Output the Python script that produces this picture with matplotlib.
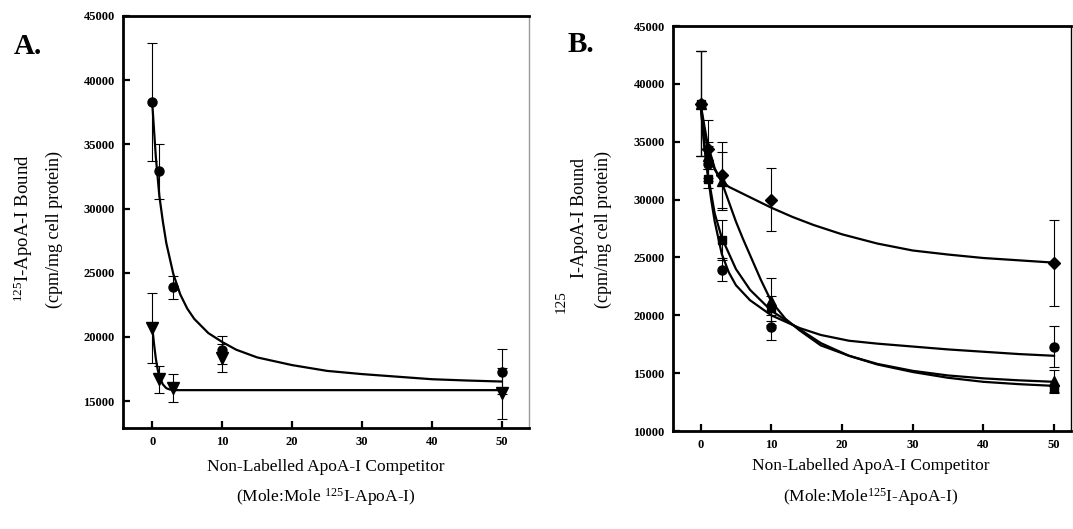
import matplotlib
matplotlib.use("Agg")
import matplotlib.pyplot as plt

plt.rcParams['font.family'] = ['Liberation Serif', 'DejaVu Serif']
plt.rcParams['mathtext.fontset'] = 'custom'
plt.rcParams['mathtext.rm'] = 'Liberation Serif'
plt.rcParams['mathtext.it'] = 'Liberation Serif:italic'
plt.rcParams['mathtext.bf'] = 'Liberation Serif:bold'

# ---------------- data ----------------
conc = [0, 1, 3, 10, 50]

# Panel A
a_circle = [38300, 32900, 23850, 18950, 17300]
a_circle_err = [4600, 2150, 900, 1100, 1750]
a_tri = [20700, 16700, 16000, 18350, 15600]
a_tri_err = [2700, 1050, 1100, 1100, 2000]

a_circle_fit_x = [0, 0.5, 1, 1.5, 2, 3, 4, 5, 6, 8, 10, 12, 15, 20, 25, 30, 35, 40, 45, 50]
a_circle_fit_y = [38100, 34000, 31000, 29000, 27300, 24900, 23300, 22200, 21400, 20300,
                  19600, 19000, 18400, 17800, 17350, 17100, 16900, 16700, 16600, 16520]
a_tri_fit_x = [0, 0.25, 0.5, 0.75, 1, 1.5, 2, 2.5, 3.3, 50]
a_tri_fit_y = [20700, 19400, 18300, 17500, 16900, 16300, 16000, 15900, 15850, 15850]

# Panel B
b_circle = [38300, 33100, 23950, 18950, 17300]
b_circle_err = [4550, 1500, 1000, 1100, 1800]
b_square = [38300, 31800, 26500, 20600, 13700]
b_square_err = [4550, 800, 1700, 1100, 300]
b_tri = [38300, 33800, 31600, 21200, 14300]
b_tri_err = [4550, 1200, 2500, 2000, 1000]
b_diam = [38300, 34400, 32100, 30000, 24500]
b_diam_err = [4550, 2500, 2850, 2750, 3700]

b_circle_fit_x = [0, 0.5, 1, 1.5, 2, 3, 4, 5, 7, 10, 14, 17, 21, 25, 30, 35, 40, 45, 50]
b_circle_fit_y = [38300, 35000, 32300, 30000, 28100, 25300, 23700, 22600, 21300, 20000,
                  18900, 18300, 17800, 17550, 17300, 17050, 16850, 16650, 16500]
b_square_fit_x = [0, 0.5, 1, 2, 3, 5, 7, 10, 14, 17, 21, 25, 30, 35, 40, 45, 50]
b_square_fit_y = [38300, 34800, 32300, 28800, 26700, 24000, 22200, 20400, 18800, 17600,
                  16500, 15750, 15100, 14600, 14250, 14050, 13900]
b_tri_fit_x = [0, 0.5, 1, 2, 3, 4, 5, 6, 7, 8.5, 10, 12, 14, 17, 21, 25, 30, 35, 40, 45, 50]
b_tri_fit_y = [38300, 36500, 34800, 32700, 31500, 29800, 28100, 26600, 25200, 23100,
               21200, 19700, 18700, 17400, 16500, 15800, 15200, 14800, 14550, 14380, 14250]
b_diam_fit_x = [0, 0.5, 1, 2, 3, 4, 5, 7, 10, 13, 16, 20, 25, 30, 35, 40, 45, 50]
b_diam_fit_y = [38300, 36000, 34500, 32600, 31600, 31100, 30800, 30200, 29300, 28500,
                27800, 27000, 26200, 25600, 25250, 24950, 24750, 24550]

x_ticks = [0, 10, 20, 30, 40, 50]
a_y_ticks = [15000, 20000, 25000, 30000, 35000, 40000, 45000]
b_y_ticks = [10000, 15000, 20000, 25000, 30000, 35000, 40000, 45000]

# ---------------- figure ----------------
W, H = 1073, 529
fig = plt.figure(figsize=(W / 100, H / 100), dpi=100)


def px_axes(l, t, r, b):
    return fig.add_axes([l / W, 1 - b / H, (r - l) / W, (b - t) / H])


def style(ax, yticks):
    ax.set_xticks(x_ticks)
    ax.set_yticks(yticks)
    ax.tick_params(direction='in', length=5, width=1.6, pad=6, labelsize=9)
    for lab in ax.get_xticklabels() + ax.get_yticklabels():
        lab.set_fontweight('bold')
    for s in ['left', 'bottom', 'top']:
        ax.spines[s].set_linewidth(2.0)
    ax.spines['right'].set_linewidth(1.0)


err_kw = dict(ecolor='black', elinewidth=0.8, capsize=3.5, capthick=0.8, linestyle='none',
              color='black')

# Panel A
axA = px_axes(123, 16, 529, 428)
axA.plot(a_circle_fit_x, a_circle_fit_y, color='black', lw=1.6)
axA.plot(a_tri_fit_x, a_tri_fit_y, color='black', lw=1.6)
axA.errorbar(conc, a_circle, yerr=a_circle_err, marker='o', ms=6.5, **err_kw)
axA.errorbar(conc, a_tri, yerr=a_tri_err, marker='v', ms=8, **err_kw)
axA.set_xlim(-4.2, 53.9)
axA.set_ylim(12900, 45000)
style(axA, a_y_ticks)
axA.spines['right'].set_color('#999999')

# Panel B
axB = px_axes(673, 26, 1071, 431)
for fx, fy in [(b_diam_fit_x, b_diam_fit_y), (b_circle_fit_x, b_circle_fit_y),
               (b_square_fit_x, b_square_fit_y), (b_tri_fit_x, b_tri_fit_y)]:
    axB.plot(fx, fy, color='black', lw=1.6)
axB.errorbar(conc, b_circle, yerr=b_circle_err, marker='o', ms=6.5, **err_kw)
axB.errorbar(conc, b_square, yerr=b_square_err, marker='s', ms=5.5, **err_kw)
axB.errorbar(conc, b_tri, yerr=b_tri_err, marker='^', ms=7, **err_kw)
axB.errorbar(conc, b_diam, yerr=b_diam_err, marker='D', ms=6, **err_kw)
axB.set_xlim(-3.9, 52.4)
axB.set_ylim(10000, 45000)
style(axB, b_y_ticks)


def ftext(x, y, s, **kw):
    fig.text(x / W, 1 - y / H, s, **kw)


# panel letters
ftext(14, 47, 'A.', fontsize=21, fontweight='bold', ha='left', va='center')
ftext(568, 44, 'B.', fontsize=21, fontweight='bold', ha='left', va='center')

# y labels
ftext(23, 228, r'$^{125}$I-ApoA-I Bound', fontsize=13.5, rotation=90, ha='center', va='center')
ftext(54, 230, '(cpm/mg cell protein)', fontsize=13, rotation=90, ha='center', va='center')
ftext(561, 302, '125', fontsize=11, rotation=90, ha='center', va='center')
ftext(580, 218, 'I-ApoA-I Bound', fontsize=13, rotation=90, ha='center', va='center')
ftext(603, 229, '(cpm/mg cell protein)', fontsize=13, rotation=90, ha='center', va='center')

# x labels
ftext(326, 467, 'Non-Labelled ApoA-I Competitor', fontsize=12.5, ha='center', va='center')
ftext(326, 497, r'(Mole:Mole $^{125}$I-ApoA-I)', fontsize=12.5, ha='center', va='center')
ftext(871, 466, 'Non-Labelled ApoA-I Competitor', fontsize=12.5, ha='center', va='center')
ftext(871, 497, r'(Mole:Mole$^{125}$I-ApoA-I)', fontsize=12.5, ha='center', va='center')

fig.savefig('out.png', dpi=100)
